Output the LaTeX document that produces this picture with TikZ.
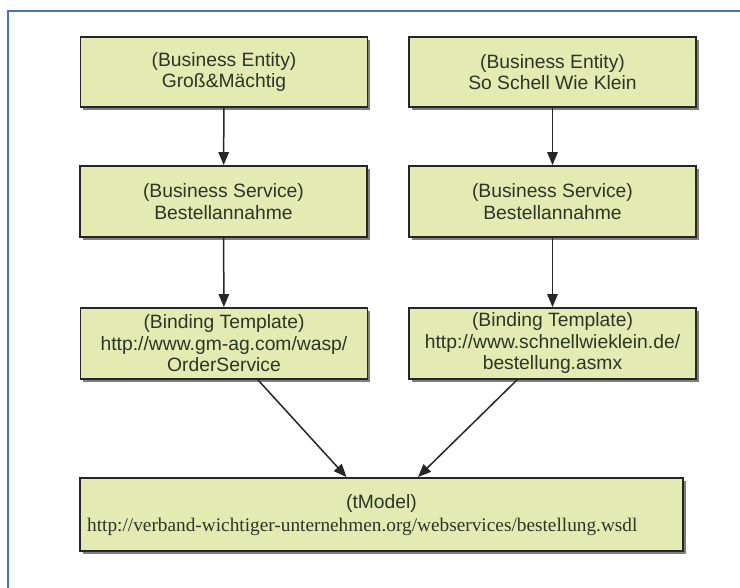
\documentclass[tikz,border=0pt]{standalone}
\usepackage{fontspec}
\setmainfont{Liberation Sans}
\newfontfamily\urlserif{Liberation Serif}
\usetikzlibrary{arrows.meta,shadows}
\definecolor{boxfill}{HTML}{E3EBB3}
\definecolor{boxline}{HTML}{262626}
\definecolor{txtcol}{HTML}{2C3624}
\definecolor{framecol}{HTML}{4A72C0}
\tikzset{
  entitybox/.style={draw=boxline, line width=1.9pt, fill=boxfill,
    minimum width=287pt, minimum height=70pt, inner sep=0pt,
    align=center, text=txtcol,
    font=\fontsize{19.3}{21.5}\selectfont,
    drop shadow={shadow xshift=2.5pt, shadow yshift=-3pt, fill=black, opacity=0.5}},
  lbl/.style={inner sep=0pt, text=txtcol, font=\fontsize{19.3}{21.5}\selectfont},
  conn/.style={draw=black!85, line width=1.5pt, -{Triangle[length=13pt,width=10.5pt]}},
  framestyle/.style={draw=framecol, line width=1.5pt}
}
\begin{document}
\begin{tikzpicture}[x=1pt,y=-1pt]
\useasboundingbox (0,0) rectangle (740,588);
\fill[white] (0,0) rectangle (740,588);
\draw[framestyle] (8,588) -- (8,11) -- (740,11);

\node[entitybox] (be1) at (224,72) {(Business Entity)\\Groß\&Mächtig};
\node[entitybox] (be2) at (552.5,72) {(Business Entity)\\So Schell Wie Klein};
\node[entitybox, minimum height=71pt] (bs1) at (223.5,201.5) {(Business Service)\\Bestellannahme};
\node[entitybox, minimum height=71pt] (bs2) at (552.5,201.5) {(Business Service)\\Bestellannahme};
\node[entitybox, minimum height=71pt] (bt1) at (224,343.5) {(Binding Template)\\http://www.gm-ag.com/wasp/\\OrderService};
\node[entitybox, minimum height=71pt] (bt2) at (552.5,343.5) {(Binding Template)\\http://www.schnellwieklein.de/\\bestellung.asmx};
\node[entitybox, minimum width=603pt, minimum height=73pt] (tm) at (381.5,514.5) {};
\node[lbl] (tmtitle) at (381.5,504) {(tModel)};
\node[lbl, anchor=west, font=\urlserif\fontsize{19.3}{21.5}\selectfont] (tmurl) at (87,527) {http://verband-wichtiger-unternehmen.org/webservices/bestellung.wsdl};

\draw[conn] (be1) -- (bs1);
\draw[conn] (be2) -- (bs2);
\draw[conn] (bs1) -- (bt1);
\draw[conn] (bs2) -- (bt2);
\draw[conn] ([xshift=34pt]bt1.south) -- ([xshift=-35pt]tm.north);
\draw[conn] ([xshift=-35.5pt]bt2.south) -- ([xshift=36.5pt]tm.north);
\end{tikzpicture}
\end{document}
